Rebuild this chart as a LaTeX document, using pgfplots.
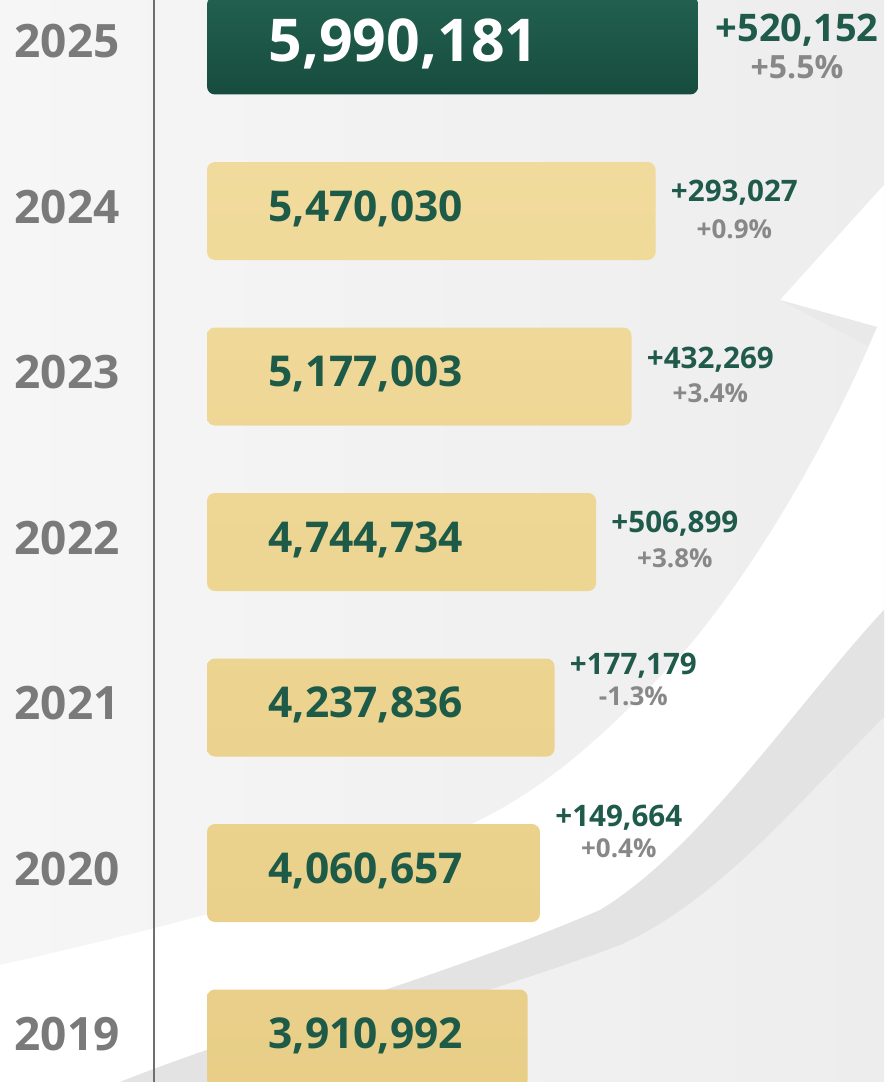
\documentclass[border=0pt]{standalone}
\usepackage{pgfplots}
\pgfplotsset{compat=1.18}
\usepackage{fontspec}
\setmainfont{Open Sans}

\definecolor{bgL}{HTML}{F6F6F6}
\definecolor{bgR}{HTML}{EDEDED}
\definecolor{shadowgray}{HTML}{E3E3E3}
\definecolor{yeargray}{HTML}{7A7A7A}
\definecolor{linegray}{HTML}{6E6E6E}
\definecolor{valgreen}{HTML}{1D5A47}
\definecolor{greenTop}{HTML}{22604F}
\definecolor{greenBot}{HTML}{174C3D}
\definecolor{beigeTop}{HTML}{F1DB9C}
\definecolor{beigeBot}{HTML}{E8CE87}
\definecolor{incgreen}{HTML}{1F5A4A}
\definecolor{pctgray}{HTML}{888888}

% increment + percent labels right of a bar
% #1 value, #2 year, #3 inc centre offset (px, + is down), #4 pct centre offset (px), #5 inc text, #6 pct text
\newcommand{\incl}[6]{%
  \node (inc#2) [anchor=base west, inner sep=0pt, text=incgreen,
    font=\fontsize{14.8}{16}\selectfont\bfseries,
    xshift=7.5pt, yshift={-0.5pt*(#3)-5.28pt}] at (axis cs:#1,#2) {#5};
  \node [anchor=base, inner sep=0pt, text=pctgray,
    font=\fontsize{13}{14}\selectfont\bfseries,
    yshift={5.28pt-0.5pt*((#4)-(#3))-4.64pt}] at (inc#2.base) {#6};
}
% value label inside a bar
\newcommand{\vall}[2]{%
  \node [anchor=base west, inner sep=0pt, text=valgreen,
    font=\fontsize{21.25}{24}\selectfont\bfseries,
    yshift=-5.1pt] at (axis cs:744000,#1) {#2};
}

\begin{document}
\begin{tikzpicture}

% background, swoosh arrow and divider (pixel units, y down)
\begin{scope}[x=0.5pt,y=-0.5pt]
  \fill[left color=bgL, right color=bgR] (0,0) rectangle (884,1082);
  \clip (0,0) rectangle (884,1082);
  \fill[white]
    (884,185) -- (780,300) -- (877,327)
    .. controls (830,440) and (760,560) .. (690,645)
    .. controls (620,720) and (560,780) .. (480,820)
    .. controls (380,870) and (200,920) .. (0,965)
    -- (0,1082) -- (120,1082)
    .. controls (250,1030) and (450,975) .. (600,910)
    .. controls (700,850) and (800,700) .. (884,610) -- cycle;
  \fill[shadowgray]
    (884,610) .. controls (800,700) and (700,850) .. (600,910)
    .. controls (450,975) and (250,1030) .. (120,1082)
    -- (210,1082) .. controls (350,1030) and (500,990) .. (620,945)
    .. controls (720,900) and (800,800) .. (884,717) -- cycle;
  \fill[shadowgray!80!white] (780,300) -- (877,327) -- (868,346) -- cycle;
  \draw[linegray, line width=1pt] (154,0) -- (154,1082);
\end{scope}

\begin{axis}[
    at={(0,0)}, anchor=north west,
    scale only axis, width=442pt, height=541pt,
    xmin=-2524390, xmax=8256098,
    ymin=2018.7372, ymax=2025.2749,
    axis line style={draw=none},
    xtick=\empty,
    ytick={2019,2020,2021,2022,2023,2024,2025},
    yticklabels={2019,2020,2021,2022,2023,2024,2025},
    major tick length=0pt,
    yticklabel style={anchor=center, xshift=33.5pt, yshift=2pt, text=yeargray,
      font=\fontsize{23}{24}\selectfont\bfseries},
    xbar, bar width=49pt, bar shift=0pt,
  ]
  \addplot[xbar, draw=none, top color=beigeTop, bottom color=beigeBot, rounded corners=4pt]
    coordinates {(3910992,2019) (4060657,2020) (4237836,2021) (4744734,2022)
                 (5177003,2023) (5470030,2024)};
  \addplot[xbar, draw=none, top color=greenTop, bottom color=greenBot, rounded corners=4pt]
    coordinates {(5990181,2025)};

  \node [anchor=base west, inner sep=0pt, text=white,
    font=\fontsize{29.5}{32}\selectfont\bfseries, yshift=-8.2pt]
    at (axis cs:744000,2025) {5,990,181};
  \vall{2024}{5,470,030}
  \vall{2023}{5,177,003}
  \vall{2022}{4,744,734}
  \vall{2021}{4,237,836}
  \vall{2020}{4,060,657}
  \vall{2019}{3,910,992}

  \node (inc2025) [anchor=base west, inner sep=0pt, text=incgreen,
    font=\fontsize{19}{20}\selectfont\bfseries, xshift=8.5pt, yshift=2.2pt]
    at (axis cs:5990181,2025) {+520,152};
  \node [anchor=base, inner sep=0pt, text=pctgray,
    font=\fontsize{16}{17}\selectfont\bfseries, yshift=-18.9pt]
    at (inc2025.base) {+5.5\%};
  \incl{5470030}{2024}{-20}{18}{+293,027}{+0.9\%}
  \incl{5177003}{2023}{-19}{17}{+432,269}{+3.4\%}
  \incl{4744734}{2022}{-20}{16}{+506,899}{+3.8\%}
  \incl{4237836}{2021}{-44}{-11}{+177,179}{-1.3\%}
  \incl{4060657}{2020}{-57}{-25}{+149,664}{+0.4\%}
\end{axis}
\pgfresetboundingbox
\useasboundingbox (0,0) rectangle (442pt,-541pt);
\end{tikzpicture}
\end{document}
